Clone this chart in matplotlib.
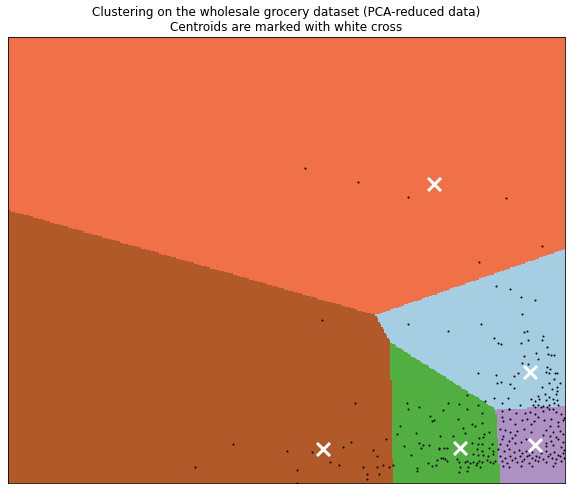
import numpy as np
import matplotlib
matplotlib.use("Agg")
import matplotlib.pyplot as plt
from matplotlib.colors import LinearSegmentedColormap

# --- cluster centres (pc1, pc2), label order 0..4 ---
centroid_pc1 = [530.3, 460.3, 434.3, 534.5, 323.3]
centroid_pc2 = [127.7, 52.5, 315.7, 55.5, 50.7]

# --- reduced samples ---
pc1 = [
    305, 358, 408, 506, 542, 479, 322,
    408, 448, 481, 496, 510, 521, 535, 522, 524, 527, 494, 543, 498,
    501, 521, 528, 542, 547, 536, 548, 551, 554, 524, 538, 522, 547, 550,
    528, 478, 518, 496, 514, 546, 549, 555, 557, 554, 501, 497, 510, 549,
    560, 514, 542, 557, 552, 467, 538, 545, 549, 557, 556, 508, 494, 531,
    535, 539, 546, 553, 557, 485, 502, 448, 459, 520, 533, 538, 543, 549,
    554, 558, 535, 541, 547, 553, 467, 509,
    443, 478, 482, 458, 472, 482, 475, 463, 465, 489, 484, 479, 407, 419,
    408, 430, 434, 432, 400, 397, 416, 440, 386, 419, 423, 429, 404, 421,
    439, 439, 444, 447, 373, 377, 411, 441, 443, 437, 447, 428, 436, 432,
    393, 383, 377, 389, 417, 417, 379,
    453, 472, 478, 482, 483, 492, 489, 493, 477, 482, 473, 478, 483, 488,
    493, 445, 457, 459, 465, 467, 470, 473, 477, 479, 482, 487, 490, 493,
    495, 460, 468, 476, 459, 467, 480,
    355, 233, 287, 312, 343, 351, 330, 339, 363, 195, 297, 367, 367, 297,
    502, 509, 516, 525, 530, 535, 543, 549, 556, 561,
    502, 503, 510, 522, 527, 534, 538, 544, 551, 558, 563, 564, 515, 531,
    550, 558,
    500, 505, 510, 517, 524, 531, 546, 553, 560, 563, 503, 515, 543, 550,
    556,
    502, 509, 512, 521, 526, 546, 551, 558, 563, 500, 507, 515, 546, 553,
    561,
    498, 504, 509, 514, 519, 522, 526, 529, 532, 536, 541, 546, 550, 554,
    558, 563, 564,
    500, 505, 510, 515, 520, 524, 527, 532, 535, 539, 543, 548, 552, 556,
    560, 564,
    502, 507, 512, 517, 522, 529, 538, 546, 555, 561,
    503, 509, 521, 532, 553,
]
pc2 = [
    332, 318, 303, 302, 254, 238, 180,
    176, 169, 176, 214, 211, 203, 200, 186, 168, 169, 162, 164, 157,
    156, 157, 160, 160, 153, 147, 146, 145, 145, 144, 141, 137, 133, 131,
    136, 127, 127, 125, 124, 128, 127, 127, 127, 121, 118, 117, 116, 117,
    117, 112, 113, 113, 111, 105, 104, 106, 103, 109, 106, 102, 102, 101,
    99, 101, 100, 101, 100, 99, 97, 97, 96, 95, 95, 95, 94, 95,
    97, 95, 93, 93, 93, 91, 91, 91,
    90, 95, 87, 81, 76, 77, 74, 72, 67, 68, 66, 62, 97, 93,
    91, 84, 80, 79, 74, 66, 67, 64, 61, 57, 55, 55, 54, 52,
    52, 51, 52, 52, 50, 44, 45, 42, 42, 40, 39, 37, 35, 34,
    35, 35, 33, 33, 32, 29, 26,
    64, 57, 56, 56, 63, 56, 52, 49, 51, 49, 46, 45, 45, 44,
    46, 41, 41, 38, 38, 39, 37, 38, 37, 39, 38, 40, 38, 37,
    39, 33, 33, 35, 28, 29, 33,
    97, 56, 49, 48, 53, 58, 38, 35, 33, 33, 30, 26, 21, 17,
    89, 91, 87, 87, 88, 86, 89, 91, 88, 86,
    83, 79, 81, 80, 81, 79, 83, 80, 81, 78, 80, 82, 76, 76,
    74, 74,
    71, 70, 68, 69, 71, 68, 70, 68, 69, 66, 64, 65, 65, 64,
    63,
    61, 59, 62, 58, 61, 57, 59, 61, 58, 56, 55, 57, 54, 55,
    53,
    51, 49, 51, 48, 50, 47, 49, 45, 48, 44, 47, 49, 46, 48,
    45, 47, 50,
    44, 42, 44, 42, 44, 41, 44, 42, 40, 43, 41, 44, 42, 41,
    44, 42,
    39, 37, 40, 38, 39, 37, 39, 38, 37, 39,
    34, 33, 34, 34, 34,
]

pc2_scale = 1.21  # second component is stretched relative to the first
x_min, x_max = 8, 565
y_min, y_max = 17 * pc2_scale, 463 * pc2_scale

X = np.column_stack([np.array(pc1, float), np.array(pc2, float) * pc2_scale])
centroids = np.column_stack([np.array(centroid_pc1), np.array(centroid_pc2) * pc2_scale])

# decision regions: nearest centre on a mesh
h = 1.5
xx, yy = np.meshgrid(np.arange(x_min, x_max, h), np.arange(y_min, y_max, h))
grid = np.c_[xx.ravel(), yy.ravel()]
d = ((grid[:, None, :] - centroids[None, :, :]) ** 2).sum(axis=2)
Z = d.argmin(axis=1).reshape(xx.shape)

# old-style interpolated Paired colormap
paired = LinearSegmentedColormap.from_list("paired_old", plt.cm.Paired.colors, N=256)

fig = plt.figure(figsize=(572 / 72, 490 / 72), dpi=72)
ax = fig.add_axes([8 / 572, 7 / 490, 557 / 572, 446 / 490])
ax.imshow(Z, interpolation="nearest",
          extent=(xx.min(), xx.max() + h, yy.min(), yy.max() + h),
          cmap=paired, aspect="auto", origin="lower")
ax.plot(X[:, 0], X[:, 1], "k.", markersize=2)
ax.scatter(centroids[:, 0], centroids[:, 1], marker="x", s=169,
           linewidths=3, color="w", zorder=10)
ax.set_title("Clustering on the wholesale grocery dataset (PCA-reduced data)\n"
             "Centroids are marked with white cross", fontsize=12)
ax.set_xlim(x_min, x_max)
ax.set_ylim(y_min, y_max)
ax.set_xticks(())
ax.set_yticks(())

fig.savefig("out.png", dpi=72)
